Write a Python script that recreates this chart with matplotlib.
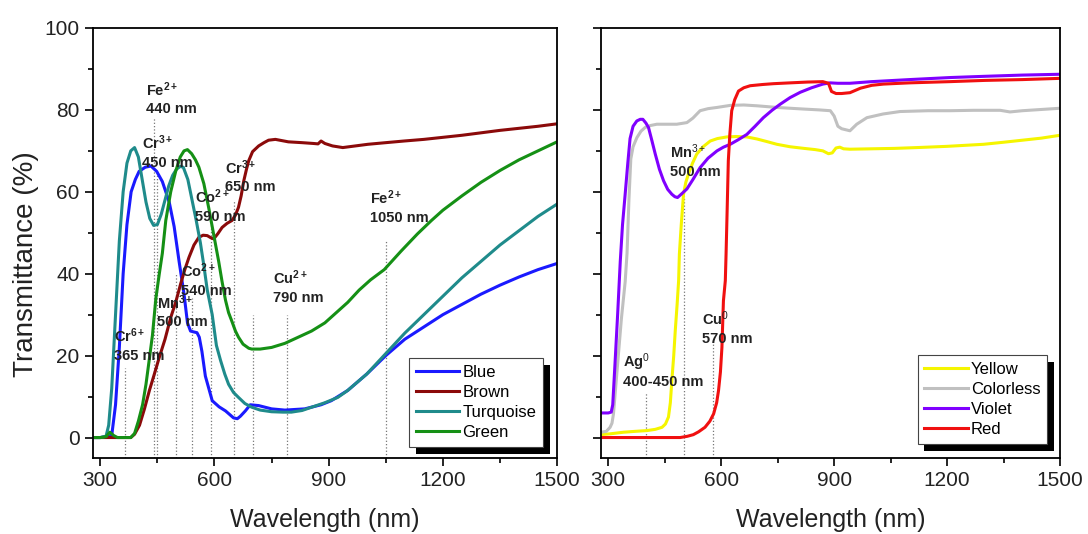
"""Transmittance spectra of coloured glasses, two panels."""

import matplotlib

matplotlib.use("Agg")

from matplotlib import patheffects  # noqa: E402
from matplotlib import pyplot as plt  # noqa: E402
from matplotlib.ticker import MultipleLocator  # noqa: E402

plt.rcParams["font.family"] = ["Liberation Sans", "DejaVu Sans"]
plt.rcParams["mathtext.fontset"] = "custom"
plt.rcParams["mathtext.rm"] = "Liberation Sans"
plt.rcParams["mathtext.bf"] = "Liberation Sans:bold"
plt.rcParams["mathtext.it"] = "Liberation Sans:italic"

# ---- left panel: Blue, Brown, Turquoise, Green ----
BLUE_WL = [280, 300, 320, 330, 340, 350, 360, 370, 381, 392, 402, 418, 433, 448,
           463, 481, 494, 507, 520, 529, 537, 545, 554, 560, 567, 576, 594, 612,
           629, 650, 660, 668, 681, 694, 716, 750, 785, 837, 880, 907, 950, 1000,
           1050, 1100, 1150, 1200, 1250, 1300, 1350, 1400, 1450, 1500]
BLUE_T = [0, 0, 0.3, 0.5, 8, 22, 40, 52, 60, 63, 65, 66, 66.3, 65,
          62.5, 57.5, 51.5, 43, 35, 28, 26, 25.8, 25.6, 24.5, 21, 15, 9, 7.5,
          6.5, 4.8, 4.6, 5.2, 6.5, 8, 7.8, 7, 6.7, 7, 8, 9, 11.5, 15.5,
          20, 24, 27, 30, 32.5, 35, 37.2, 39.2, 41, 42.5]

BROWN_WL = [280, 300, 380, 390, 403, 416, 429, 442, 455, 470, 485, 498, 511, 522,
            533, 546, 559, 570, 581, 590, 598, 609, 620, 633, 646, 655, 663, 670,
            677, 684, 690, 700, 716, 730, 742, 760, 794, 830, 860, 872, 880, 890,
            910, 937, 970, 1003, 1050, 1098, 1150, 1200, 1250, 1300, 1350, 1400,
            1450, 1500]
BROWN_T = [0, 0, 0, 0.8, 3, 7, 11.5, 15.5, 19.6, 24, 29.3, 33, 37.5, 41,
           44, 47, 48.9, 49.4, 49.3, 48.8, 48.5, 49.8, 51.3, 52.3, 53, 54.3, 56.2, 59,
           62.7, 65.5, 67.6, 69.8, 71.2, 72, 72.6, 72.8, 72.2, 72, 71.8, 71.7, 72.4, 71.8,
           71.2, 70.8, 71.2, 71.6, 72, 72.4, 72.8, 73.3, 73.8, 74.4, 75, 75.5,
           76, 76.6]

TURQ_WL = [280, 300, 315, 322, 330, 340, 350, 360, 370, 380, 390, 400, 410, 420,
           430, 440, 450, 460, 470, 480, 490, 500, 510, 518, 530, 541, 552, 563,
           572, 581, 594, 605, 616, 627, 637, 650, 663, 680, 698, 720, 750, 780,
           802, 830, 855, 890, 924, 950, 1000, 1050, 1100, 1150, 1200, 1250, 1300,
           1350, 1400, 1450, 1500]
TURQ_T = [0, 0, 0.3, 3, 12, 30, 48, 60, 67, 70, 70.8, 68.5, 63, 57.5,
          53.5, 51.8, 52, 54.5, 58, 61.5, 64, 65.5, 66.2, 66, 63, 58, 53, 47.5,
          42, 36, 30, 22.5, 18.8, 15.5, 13, 11, 9.8, 8.3, 7.4, 6.7, 6.3, 6.2,
          6.2, 6.6, 7.4, 8.5, 9.8, 11.5, 15.5, 20.5, 25.5, 30, 34.5, 39, 43,
          47, 50.5, 54, 57]

GREEN_WL = [280, 300, 315, 325, 335, 345, 380, 390, 400, 411, 420, 430, 437, 446,
            455, 463, 472, 485, 498, 510, 520, 529, 540, 550, 559, 572, 585, 598,
            611, 620, 629, 637, 646, 655, 663, 675, 690, 698, 720, 750, 785, 820,
            855, 890, 920, 950, 980, 1010, 1046, 1090, 1133, 1170, 1200, 1250, 1300,
            1350, 1400, 1450, 1500]
GREEN_T = [0, 0, 0.2, 1.3, 0.5, 0, 0, 1, 4, 8, 13, 20, 25, 34,
           40, 45, 53, 60, 65, 68.5, 70, 70.3, 69.3, 67.8, 66, 62, 56, 49.5,
           43, 38, 33.5, 30.5, 28.3, 26, 24.5, 22.8, 21.8, 21.6, 21.6, 22, 23, 24.5,
           26, 28, 30.5, 33, 36, 38.5, 41, 45.5, 49.7, 53, 55.5, 59, 62.3,
           65.2, 67.8, 70, 72.2]

LEFT_MARK_WL = [365, 440, 450, 500, 540, 590, 650, 700, 790, 1050]
LEFT_MARK_TOP = [17, 78, 64, 40, 34, 52, 58, 30, 30, 48]
LEFT_LABELS = [
    (r"Fe$^{\mathbf{2+}}$", "440 nm"),
    (r"Cr$^{\mathbf{3+}}$", "450 nm"),
    (r"Co$^{\mathbf{2+}}$", "590 nm"),
    (r"Cr$^{\mathbf{3+}}$", "650 nm"),
    (r"Co$^{\mathbf{2+}}$", "540 nm"),
    (r"Mn$^{\mathbf{3+}}$", "500 nm"),
    (r"Cr$^{\mathbf{6+}}$", "365 nm"),
    (r"Cu$^{\mathbf{2+}}$", "790 nm"),
    (r"Fe$^{\mathbf{2+}}$", "1050 nm"),
]
LEFT_LABEL_POS = [(421, 85), (410, 72), (549, 58.8), (627, 66), (511, 40.7),
                  (448, 33), (337, 24.9), (755, 39), (1009, 58.6)]

# ---- right panel: Yellow, Colorless, Violet, Red ----
YELLOW_WL = [280, 305, 341, 370, 403, 425, 443, 452, 460, 465, 469, 474, 478, 483,
             487, 489, 494, 500, 506, 513, 524, 535, 552, 571, 590, 615, 640, 668,
             695, 720, 748, 783, 820, 850, 870, 885, 895, 905, 915, 925, 942, 1000,
             1060, 1120, 1200, 1297, 1350, 1400, 1450, 1500]
YELLOW_T = [0.7, 0.9, 1.3, 1.5, 1.7, 2, 2.5, 3.3, 5, 8.5, 13.9, 20, 26, 32.5,
            38.3, 44.8, 52, 59.4, 62.3, 64.3, 67, 69.2, 71, 72.4, 73, 73.4, 73.5, 73.4,
            72.9, 72.3, 71.6, 71, 70.6, 70.3, 70, 69.3, 69.5, 70.7, 70.9, 70.5, 70.4, 70.5,
            70.6, 70.8, 71.1, 71.6, 72.1, 72.6, 73.1, 73.8]

COLORLESS_WL = [280, 295, 305, 310, 314, 325, 335, 345, 350, 355, 360, 366, 376, 387,
                398, 413, 429, 455, 482, 509, 525, 544, 565, 589, 624, 660, 695, 748,
                783, 820, 860, 890, 900, 910, 920, 942, 960, 987, 1030, 1075, 1150,
                1208, 1270, 1341, 1367, 1400, 1450, 1500]
COLORLESS_T = [1.3, 1.5, 2.5, 3.5, 5.8, 18, 29, 38, 45, 58, 68, 71, 73.2, 74.8,
               75.7, 76.2, 76.5, 76.5, 76.5, 76.9, 78, 79.8, 80.3, 80.6, 81.1, 81.2, 81, 80.6,
               80.4, 80.2, 80, 79.8, 78.5, 76, 75.4, 74.9, 76.5, 78.1, 79, 79.6, 79.8,
               79.8, 79.9, 79.9, 79.5, 79.8, 80.1, 80.4]

VIOLET_WL = [280, 300, 308, 312, 318, 325, 332, 338, 345, 352, 358, 366, 376, 385,
             392, 400, 407, 416, 425, 436, 447, 458, 469, 477, 484, 495, 509, 525,
             544, 565, 589, 606, 624, 645, 668, 690, 712, 735, 757, 783, 810, 840,
             870, 889, 910, 942, 1000, 1100, 1208, 1300, 1400, 1500]
VIOLET_T = [6, 6, 6.2, 8, 18, 30, 43, 52, 59.4, 67, 73, 76, 77.3, 77.7,
            77.7, 76.8, 75.7, 72.5, 69.2, 65.5, 62.7, 60.6, 59.4, 58.8, 58.6, 59.5, 60.7, 63,
            65.9, 68.2, 70, 70.9, 71.6, 72.7, 74, 76, 78.1, 79.9, 81.4, 83, 84.3, 85.4,
            86.3, 86.6, 86.5, 86.5, 86.9, 87.4, 87.9, 88.2, 88.5, 88.7]

RED_WL = [280, 300, 400, 491, 510, 526, 540, 557, 570, 580, 588, 593, 598, 602,
          606, 611, 613, 616, 619, 623, 628, 636, 646, 660, 677, 710, 739, 783,
          830, 870, 885, 893, 905, 920, 942, 970, 1000, 1031, 1100, 1208, 1300,
          1400, 1500]
RED_T = [0, 0, 0, 0, 0.3, 0.7, 1.4, 2.5, 4, 5.8, 8.5, 11.5, 16, 22,
         33.4, 38.3, 44.8, 56, 67.6, 74, 79.8, 82.5, 84.6, 85.4, 85.9, 86.2, 86.4, 86.6,
         86.8, 86.9, 86.5, 84.5, 84, 84, 84.2, 85.3, 86, 86.3, 86.6, 86.9, 87.2,
         87.4, 87.7]

RIGHT_MARK_WL = [400, 500, 578]
RIGHT_MARK_TOP = [11, 59, 23]
RIGHT_LABELS = [
    (r"Ag$^{0}$", "400-450 nm"),
    (r"Cu$^{0}$", "570 nm"),
    (r"Mn$^{3+}$", "500 nm"),
]
RIGHT_LABEL_POS = [(339, 18.4), (549, 29), (465, 69.8)]

XTICKS = [300, 600, 900, 1200, 1500]
YTICKS = [0, 20, 40, 60, 80, 100]


def _style_axes(ax, show_ylabels):
    ax.set_xlim(280, 1500)
    ax.set_ylim(-5, 100)
    ax.set_xticks(XTICKS)
    ax.set_yticks(YTICKS)
    ax.xaxis.set_minor_locator(MultipleLocator(150))
    ax.yaxis.set_minor_locator(MultipleLocator(10))
    ax.tick_params(which="both", direction="out", width=1.2, colors="black",
                   labelcolor="#222222", labelsize=15, top=False, right=False)
    ax.tick_params(which="major", length=6)
    ax.tick_params(which="minor", length=3.5)
    if not show_ylabels:
        ax.tick_params(axis="y", labelleft=False)
    for spine in ax.spines.values():
        spine.set_linewidth(1.3)
        spine.set_color("black")
    ax.set_xlabel("Wavelength (nm)", fontsize=18, color="#222222", labelpad=13)


def _legend(ax, anchor):
    leg = ax.legend(loc="lower right", bbox_to_anchor=anchor, fontsize=12,
                    frameon=True, fancybox=False, framealpha=1, edgecolor="#444444",
                    handlelength=2.6, handletextpad=0.2, labelspacing=0.3,
                    borderpad=0.4, borderaxespad=0)
    leg.get_frame().set_linewidth(0.8)
    leg.get_frame().set_path_effects([
        patheffects.withSimplePatchShadow(offset=(5, -5), shadow_rgbFace="black",
                                          alpha=1.0)
    ])
    return leg


def _labels(ax, labels, positions):
    for (head, tail), (x, y) in zip(labels, positions):
        ax.text(x, y, head, fontsize=10.5, fontweight="bold", color="#222222",
                ha="left", va="center")
        ax.text(x, y - 4.9, tail, fontsize=10.5, fontweight="bold",
                color="#222222", ha="left", va="center")


fig = plt.figure(figsize=(10.88, 5.34), dpi=100)
ax_l = fig.add_axes([0.0852, 0.1423, 0.4268, 0.8053])
ax_r = fig.add_axes([0.5521, 0.1423, 0.4222, 0.8053])

lw = 2.2
ax_l.vlines(LEFT_MARK_WL, -5, LEFT_MARK_TOP, colors="#777777", linestyles=":",
            linewidth=0.9)
ax_l.plot(BLUE_WL, BLUE_T, color="#1a1aff", lw=lw, label="Blue")
ax_l.plot(BROWN_WL, BROWN_T, color="#8b0a0a", lw=lw, label="Brown")
ax_l.plot(TURQ_WL, TURQ_T, color="#1f8b8b", lw=lw, label="Turquoise")
ax_l.plot(GREEN_WL, GREEN_T, color="#159015", lw=lw, label="Green")
_labels(ax_l, LEFT_LABELS, LEFT_LABEL_POS)
_style_axes(ax_l, True)
ax_l.set_ylabel("Transmittance (%)", fontsize=20, color="#222222", labelpad=4)
ax_l.yaxis.set_label_coords(-0.115, 0.45)
_legend(ax_l, (0.97, 0.026))

ax_r.vlines(RIGHT_MARK_WL, -5, RIGHT_MARK_TOP, colors="#777777", linestyles=":",
            linewidth=0.9)
ax_r.plot(YELLOW_WL, YELLOW_T, color="#f5f500", lw=lw, label="Yellow")
ax_r.plot(COLORLESS_WL, COLORLESS_T, color="#c0c0c0", lw=lw, label="Colorless")
ax_r.plot(VIOLET_WL, VIOLET_T, color="#8000ff", lw=lw, label="Violet")
ax_r.plot(RED_WL, RED_T, color="#f01010", lw=lw, label="Red")
_labels(ax_r, RIGHT_LABELS, RIGHT_LABEL_POS)
_style_axes(ax_r, False)
_legend(ax_r, (0.972, 0.033))

fig.savefig("out.png", dpi=100)
plt.close(fig)
